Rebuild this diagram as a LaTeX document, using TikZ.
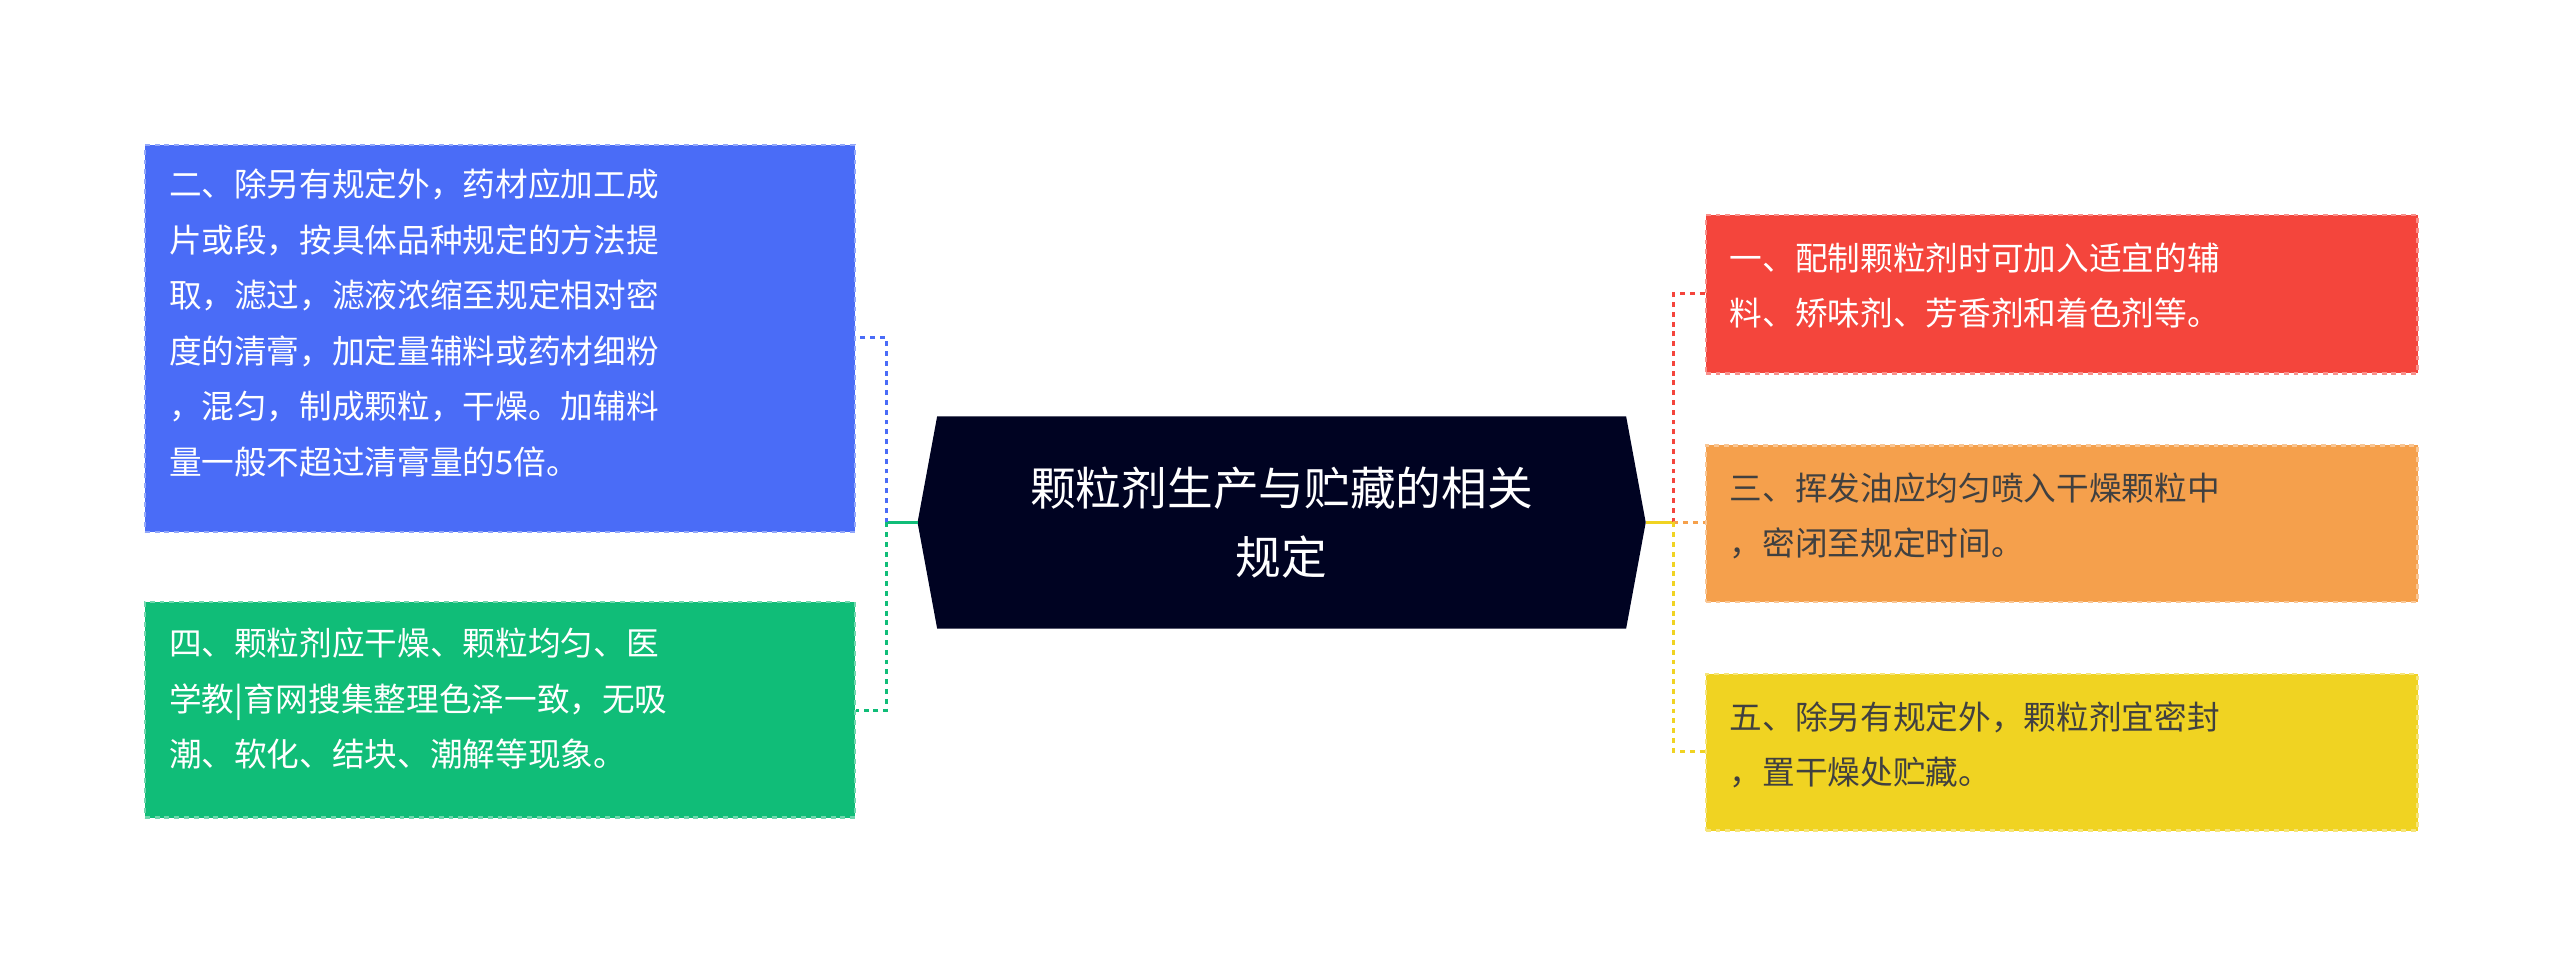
\documentclass[tikz,border=0pt]{standalone}
\usepackage{fontspec}
\setmainfont{Noto Sans CJK SC}
\begin{document}
\begin{tikzpicture}[x=1pt,y=-1pt,
  box/.style={draw=#1!60!white,fill=#1,dashed,line width=1.5pt,minimum width=435pt,anchor=north west,inner sep=0pt},
  txt/.style={anchor=north west,align=left,font=\fontsize{20}{34}\selectfont,text=white},
  conn/.style={dashed,line width=1.8pt}]
\definecolor{cblue}{HTML}{4A6CF7}
\definecolor{cgreen}{HTML}{10BD78}
\definecolor{cred}{HTML}{F4453C}
\definecolor{corange}{HTML}{F5A04C}
\definecolor{cyellow}{HTML}{F0D322}
\definecolor{cnavy}{HTML}{000322}
\useasboundingbox (0,0) rectangle (1568,597);
% center
\fill[cnavy] (562,320) -- (574,255) -- (996,255) -- (1008,320) -- (996,385) -- (574,385) -- cycle;
\node[align=center,text=white,font=\fontsize{28}{42}\selectfont] (c) at (785,320) {颗粒剂生产与贮藏的相关\\规定};
\coordinate (cl) at (562,320);
\coordinate (cr) at (1008,320);
% boxes
\node[box=cblue,minimum height=237pt] (b1) at (88,88) {};
\node[txt] at (100,100) {二、除另有规定外，药材应加工成\\片或段，按具体品种规定的方法提\\取，滤过，滤液浓缩至规定相对密\\度的清膏，加定量辅料或药材细粉\\，混匀，制成颗粒，干燥。加辅料\\量一般不超过清膏量的5倍。};
\node[box=cgreen,minimum height=132pt] (b2) at (88,368) {};
\node[txt] at (100,381) {四、颗粒剂应干燥、颗粒均匀、医\\学教|育网搜集整理色泽一致，无吸\\潮、软化、结块、潮解等现象。};
\node[box=cred,minimum height=97pt,minimum width=436pt] (b3) at (1044,131) {};
\node[txt] at (1056,145) {一、配制颗粒剂时可加入适宜的辅\\料、矫味剂、芳香剂和着色剂等。};
\node[box=corange,minimum height=96pt,minimum width=436pt] (b4) at (1044,272) {};
\node[txt,text=black!75] at (1056,286) {三、挥发油应均匀喷入干燥颗粒中\\，密闭至规定时间。};
\node[box=cyellow,minimum height=96pt,minimum width=436pt] (b5) at (1044,412) {};
\node[txt,text=black!75] at (1056,426) {五、除另有规定外，颗粒剂宜密封\\，置干燥处贮藏。};
% connectors
\draw[cgreen,line width=1.8pt] (cl) -- (543,320);
\draw[conn,cblue] (543,320) -- (543,207) -- (b1.east |- 0,207);
\draw[conn,cgreen] (543,320) -- (543,435) -- (b2.east |- 0,435);
\draw[cyellow,line width=1.8pt] (cr) -- (1025,320);
\draw[conn,cred] (1025,320) -- (1025,180) -- (b3.west |- 0,180);
\draw[conn,corange] (1025,320) -- (b4.west |- 0,320);
\draw[conn,cyellow] (1025,320) -- (1025,460) -- (b5.west |- 0,460);
\end{tikzpicture}
\end{document}
